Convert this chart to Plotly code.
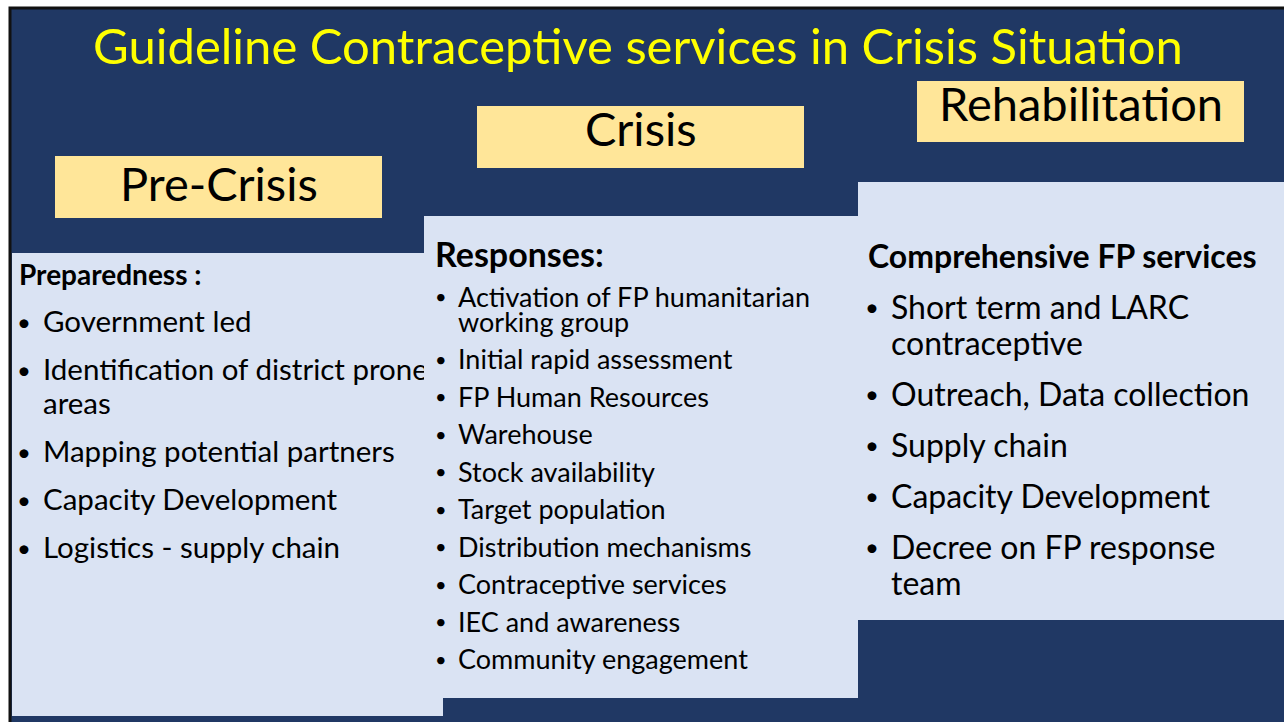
import plotly.graph_objects as go

# ---- content ----
title_text = "Guideline Contraceptive services in Crisis Situation"
phase_labels = ["Pre-Crisis", "Crisis", "Rehabilitation"]
panel_headings = ["Preparedness :", "Responses:", "Comprehensive FP services"]

pre_crisis_items = [
    ["Government led"],
    ["Identification of district prone", "areas"],
    ["Mapping potential partners"],
    ["Capacity Development"],
    ["Logistics - supply chain"],
]
crisis_items = [
    ["Activation of FP humanitarian", "working group"],
    ["Initial rapid assessment"],
    ["FP Human Resources"],
    ["Warehouse"],
    ["Stock availability"],
    ["Target population"],
    ["Distribution mechanisms"],
    ["Contraceptive services"],
    ["IEC and awareness"],
    ["Community engagement"],
]
rehab_items = [
    ["Short term and LARC", "contraceptive"],
    ["Outreach, Data collection"],
    ["Supply chain"],
    ["Capacity Development"],
    ["Decree on FP response", "team"],
]

# ---- style ----
NAVY = "#203864"
LIGHT = "#DAE3F3"
YELLOW_BOX = "#FFE699"
TITLE_YELLOW = "#FFFF00"
FONT = "Lato"
W, H = 1284, 722

fig = go.Figure()
shapes = []
ann = []

# slide background with border
shapes.append(dict(type="rect", x0=10, y0=8, x1=W + 5, y1=H + 5, fillcolor=NAVY,
                   line=dict(color="#111111", width=3), layer="below"))
# panels
shapes.append(dict(type="rect", x0=12, y0=253, x1=443, y1=716, fillcolor=LIGHT,
                   line=dict(width=0), layer="below"))
shapes.append(dict(type="rect", x0=424, y0=216, x1=858, y1=698, fillcolor=LIGHT,
                   line=dict(width=0), layer="above"))
shapes.append(dict(type="rect", x0=858, y0=182, x1=W + 2, y1=620, fillcolor=LIGHT,
                   line=dict(width=0), layer="below"))
# phase boxes
boxes = [(55, 156, 382, 218), (477, 106, 804, 168), (917, 81, 1244, 142)]
label_y = [183, 128, 103]
for (x0, y0, x1, y1), lab, yl in zip(boxes, phase_labels, label_y):
    shapes.append(dict(type="rect", x0=x0, y0=y0, x1=x1, y1=y1, fillcolor=YELLOW_BOX,
                       line=dict(width=0), layer="below"))
    ann.append(dict(x=(x0 + x1) / 2, y=yl, text=lab, showarrow=False,
                    xanchor="center", yanchor="middle",
                    font=dict(family=FONT, size=47, color="black")))

# title
ann.append(dict(x=638, y=45, text=title_text, showarrow=False, xanchor="center",
                yanchor="middle", font=dict(family=FONT, size=49, color=TITLE_YELLOW)))

# ---- left panel (as trace text so the middle panel can cover overflow) ----
lsize = 29.5
tx, ty, tt = [], [], []
bx, by = [], []
y = 325
for item in pre_crisis_items:
    bx.append(24); by.append(y)
    for k, line in enumerate(item):
        tx.append(43); ty.append(y + 34 * k); tt.append(line)
    y += 34 * (len(item) - 1) + 48
fig.add_trace(go.Scatter(x=[19], y=[278], mode="text", text=["<b>" + panel_headings[0] + "</b>"],
                         textposition="middle right", hoverinfo="skip",
                         textfont=dict(family=FONT, size=28, color="black")))
fig.add_trace(go.Scatter(x=bx, y=by, mode="text", text=["•"] * len(bx),
                         textposition="middle center", hoverinfo="skip",
                         textfont=dict(family=FONT, size=24, color="black")))
fig.add_trace(go.Scatter(x=tx, y=ty, mode="text", text=tt,
                         textposition="middle right", hoverinfo="skip",
                         textfont=dict(family=FONT, size=lsize, color="black")))

# ---- middle panel ----
ann.append(dict(x=433, y=253, text="<b>" + panel_headings[1] + "</b>", showarrow=False,
                xanchor="left", yanchor="middle", font=dict(family=FONT, size=34, color="black")))
y = 296
for item in crisis_items:
    ann.append(dict(x=441, y=y, text="•", showarrow=False, xanchor="center", yanchor="middle",
                    font=dict(family=FONT, size=20, color="black")))
    for k, line in enumerate(item):
        ann.append(dict(x=456, y=y + 25 * k, text=line, showarrow=False, xanchor="left",
                        yanchor="middle", font=dict(family=FONT, size=27, color="black")))
    y += 25 * (len(item) - 1) + 37.5

# ---- right panel ----
ann.append(dict(x=866, y=255, text="<b>" + panel_headings[2] + "</b>", showarrow=False,
                xanchor="left", yanchor="middle", font=dict(family=FONT, size=32, color="black")))
y = 306
for item in rehab_items:
    ann.append(dict(x=872, y=y, text="•", showarrow=False, xanchor="center", yanchor="middle",
                    font=dict(family=FONT, size=24, color="black")))
    for k, line in enumerate(item):
        ann.append(dict(x=889, y=y + 36 * k, text=line, showarrow=False, xanchor="left",
                        yanchor="middle", font=dict(family=FONT, size=32, color="black")))
    y += 36 * (len(item) - 1) + 51

fig.update_layout(
    width=W, height=H, margin=dict(l=0, r=0, t=0, b=0),
    paper_bgcolor="white", plot_bgcolor="white", showlegend=False,
    xaxis=dict(range=[0, W], visible=False, fixedrange=True),
    yaxis=dict(range=[H, 0], visible=False, fixedrange=True),
    shapes=shapes, annotations=ann,
)
fig.write_html("out.html", config={"displayModeBar": False},
               post_script="document.body.style.margin='0';document.body.style.overflow='hidden';")
